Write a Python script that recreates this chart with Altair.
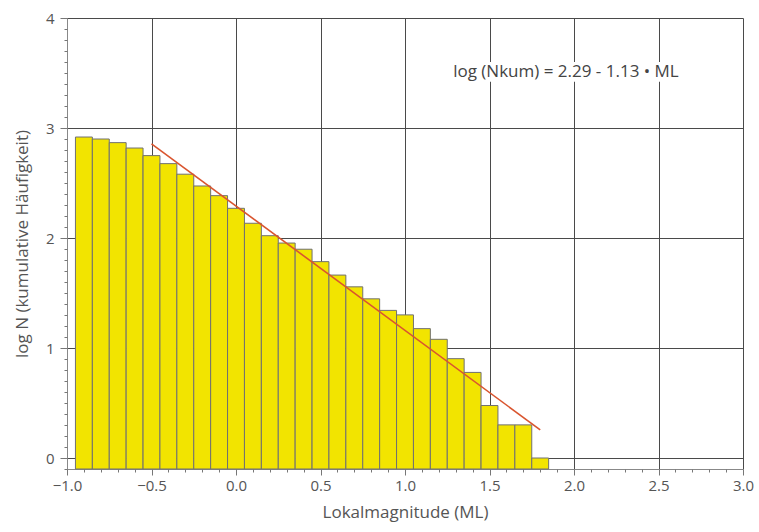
import altair as alt
import pandas as pd
import numpy as np

# Bin centres (local magnitude ML) and cumulative log N per bin
ml_centres = [-0.9, -0.8, -0.7, -0.6, -0.5, -0.4, -0.3, -0.2, -0.1, 0.0,
              0.1, 0.2, 0.3, 0.4, 0.5, 0.6, 0.7, 0.8, 0.9, 1.0,
              1.1, 1.2, 1.3, 1.4, 1.5, 1.6, 1.7, 1.8]
log_n = [2.918, 2.900, 2.867, 2.818, 2.749, 2.676, 2.580, 2.473, 2.385, 2.270,
         2.134, 2.021, 1.954, 1.898, 1.785, 1.663, 1.556, 1.447, 1.342, 1.301,
         1.176, 1.079, 0.903, 0.778, 0.477, 0.301, 0.301, 0.000]
bin_width = 0.1

# Fitted Gutenberg-Richter line end points
fit_ml = [-0.5, 1.8]
fit_logn = [2.855, 0.256]

equation_text = "log (Nkum) = 2.29 - 1.13 \u2022 ML"
x_major = [-1.0, -0.5, 0.0, 0.5, 1.0, 1.5, 2.0, 2.5, 3.0]
y_major = [0, 1, 2, 3, 4]

bars = pd.DataFrame({
    "ml": ml_centres,
    "logn": log_n,
})
bars["x0"] = bars["ml"] - bin_width / 2
bars["x1"] = bars["ml"] + bin_width / 2

fit = pd.DataFrame({"ml": fit_ml, "logn": fit_logn})

FONT = "Open Sans"
GRID = "#4a4a4a"
TXT = "#555555"

xscale = alt.Scale(domain=[-1.0, 3.0], nice=False, zero=False)
yscale = alt.Scale(domain=[-0.1, 4.0], nice=False, zero=False)

x_minor_vals = [round(v, 1) for v in np.arange(-1.0, 3.0001, 0.1)]
y_minor_vals = [round(v, 1) for v in np.arange(-0.1, 4.0001, 0.1)]

bar_layer = alt.Chart(bars).mark_bar(
    fill="#f2e400", stroke="#707070", strokeWidth=1
).encode(
    x=alt.X("x0:Q", scale=xscale, title="Lokalmagnitude (ML)",
            axis=alt.Axis(values=x_major, format=".1f", grid=True,
                          gridColor=GRID, gridWidth=1, gridOpacity=1,
                          tickSize=6, tickColor="#777777", domainColor="#888888",
                          labelFont=FONT, labelFontSize=15, labelColor=TXT,
                          labelPadding=3, labelFlush=False,
                          titleFont=FONT, titleFontSize=17, titleColor=TXT,
                          titleFontWeight="normal", titlePadding=11)),
    x2="x1:Q",
    y=alt.Y("logn:Q", scale=yscale, title="log N (kumulative Häufigkeit)",
            axis=alt.Axis(values=y_major, format="d", grid=True,
                          gridColor=GRID, gridWidth=1, gridOpacity=1,
                          tickSize=7, tickColor="#777777", domainColor="#888888",
                          labelFont=FONT, labelFontSize=15, labelColor=TXT,
                          labelPadding=6, labelFlush=False,
                          titleFont=FONT, titleFontSize=17, titleColor=TXT,
                          titleFontWeight="normal", titlePadding=14)),
    y2=alt.datum(-0.1),
)

minor_layer = alt.Chart(bars).mark_point(opacity=0).encode(
    x=alt.X("ml:Q", scale=xscale, title=None,
            axis=alt.Axis(values=x_minor_vals, orient="bottom", labels=False,
                          grid=False, domain=False, tickSize=3,
                          tickColor="#777777")),
    y=alt.Y("logn:Q", scale=yscale, title=None,
            axis=alt.Axis(values=y_minor_vals, orient="left", labels=False,
                          grid=False, domain=False, tickSize=3,
                          tickColor="#777777")),
)

fit_layer = alt.Chart(fit).mark_line(color="#d9552f", strokeWidth=1.6).encode(
    x=alt.X("ml:Q", scale=xscale, axis=None),
    y=alt.Y("logn:Q", scale=yscale, axis=None),
)

label_df = pd.DataFrame({"t": [equation_text]})

box_layer = alt.Chart(label_df).mark_rect(fill="white").encode(
    x=alt.datum(1.27, scale=xscale, axis=None), x2=alt.datum(2.68),
    y=alt.datum(3.42, scale=yscale, axis=None), y2=alt.datum(3.6),
)

text_layer = alt.Chart(label_df).mark_text(
    align="left", baseline="middle", font=FONT, fontSize=17, color="#444444"
).encode(
    x=alt.datum(1.285, scale=xscale, axis=None),
    y=alt.datum(3.51, scale=yscale, axis=None),
    text="t:N",
)

chart = alt.layer(
    bar_layer, minor_layer, box_layer, text_layer, fit_layer
).resolve_axis(
    x="independent", y="independent"
).properties(
    width=676, height=451,
    autosize=alt.AutoSizeParams(type="none"),
    padding={"left": 67, "top": 18, "right": 16, "bottom": 63},
    background="white",
).configure_view(strokeWidth=0)

chart.save("out.html", embed_options={"renderer": "svg", "actions": False})
